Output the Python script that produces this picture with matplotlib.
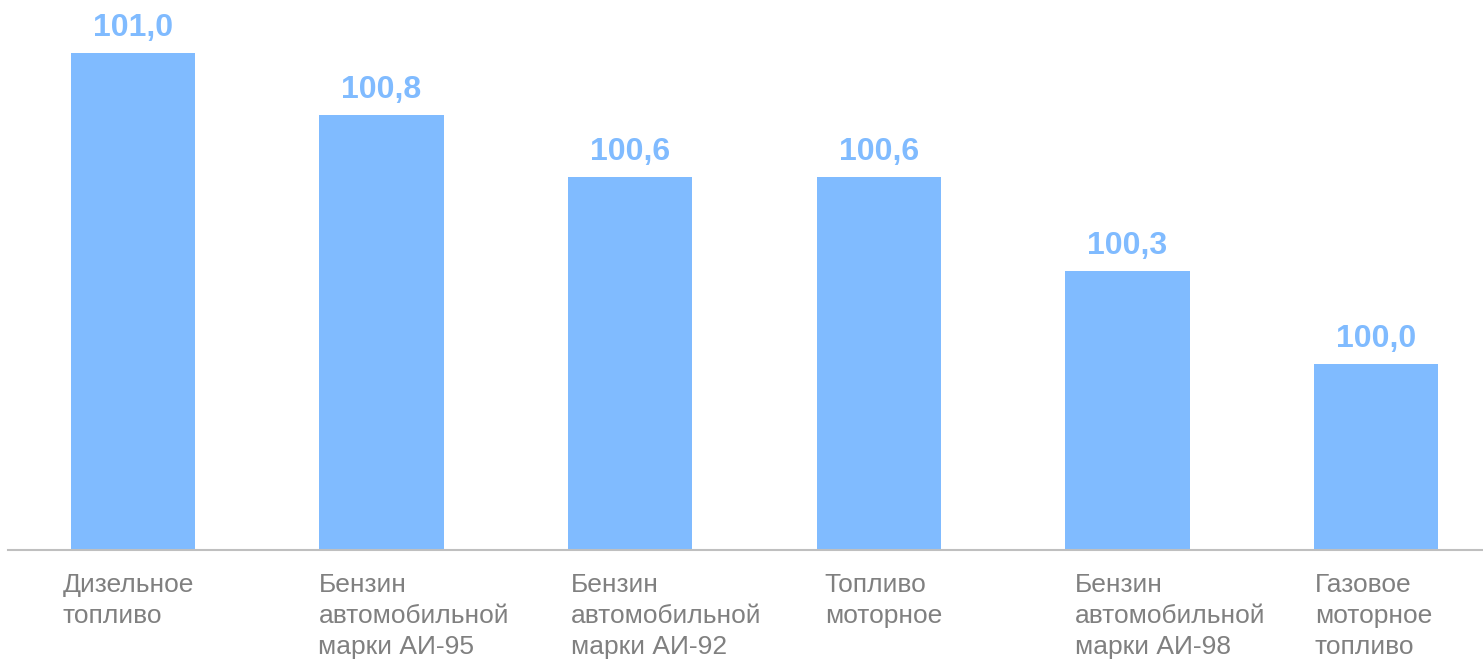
import matplotlib
matplotlib.use("Agg")
import matplotlib.pyplot as plt

categories = ["Дизельное\nтопливо",
              "Бензин\nавтомобильной\nмарки АИ-95",
              "Бензин\nавтомобильной\nмарки АИ-92",
              "Топливо\nмоторное",
              "Бензин\nавтомобильной\nмарки АИ-98",
              "Газовое\nмоторное\nтопливо"]
values = [101.0, 100.8, 100.6, 100.6, 100.3, 100.0]
value_labels = ["101,0", "100,8", "100,6", "100,6", "100,3", "100,0"]

# layout: horizontal offsets (px) of label's left edge relative to bar left edge
label_dx_px = [-8, -1, 3, 8, 10, 1]

plt.rcParams['font.family'] = ['Liberation Sans', 'DejaVu Sans']

W, H, DPI = 1483, 660, 100
fig = plt.figure(figsize=(W / DPI, H / DPI), dpi=DPI)
ax = fig.add_axes([8 / W, 110 / H, 1475 / W, 550 / H])

bar_color = "#80BBFF"
bw = 0.5
x = list(range(len(values)))
ax.bar(x, values, width=bw, color=bar_color, bottom=0)

ax.set_xlim(-125 / 248.6, (W - 133) / 248.6)
ax.set_ylim(99.4, 99.4 + 551 / 311)

for s in ["top", "right", "left"]:
    ax.spines[s].set_visible(False)
ax.spines["bottom"].set_color("#BFBFBF")
ax.spines["bottom"].set_linewidth(1.5)
ax.set_yticks([])
ax.set_xticks([])

px = 72 / DPI
for xi, v, lab in zip(x, values, value_labels):
    ax.annotate(lab, (xi, v), xytext=(0, 17 * px), textcoords="offset points",
                ha="center", va="baseline", fontsize=23, fontweight="bold",
                color=bar_color)

for xi, cat, dx in zip(x, categories, label_dx_px):
    ax.annotate(cat, (xi - bw / 2, 0), xycoords=("data", "axes fraction"),
                xytext=(dx * px, -23 * px), textcoords="offset points",
                ha="left", va="top", fontsize=19, color="#808080",
                linespacing=1.36)

fig.savefig("out.png", dpi=DPI)
